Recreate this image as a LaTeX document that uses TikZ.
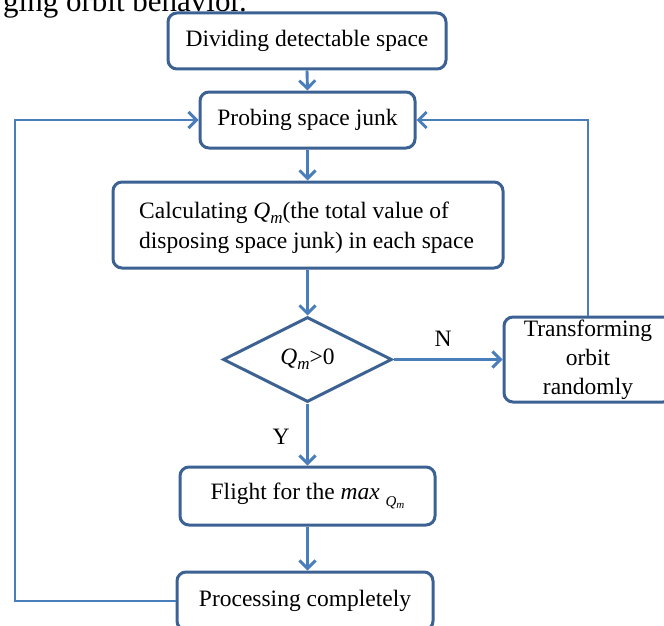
\documentclass[tikz,border=0pt]{standalone}
\usepackage{fontspec}
\setmainfont{Liberation Serif}
\usetikzlibrary{arrows.meta,shapes.geometric}
\definecolor{boxblue}{HTML}{3C6294}
\definecolor{linkblue}{HTML}{4A7EBB}
\newcommand{\Qm}{\textit{Q}\raisebox{-0.45ex}{\fontsize{17}{17}\selectfont\textit{m}}}
\newcommand{\Qmsmall}{\raisebox{-0.6ex}{\fontsize{15}{15}\selectfont\textit{Q}\raisebox{-0.3ex}{\fontsize{11}{11}\selectfont\textit{m}}}}
\tikzset{
  stepbox/.style={draw=boxblue, line width=3pt, rounded corners=9pt, fill=white,
    font=\fontsize{23.5}{30}\selectfont, align=center, inner sep=0pt},
  decision/.style={draw=boxblue, line width=3pt, diamond, fill=white, inner sep=0pt,
    font=\fontsize{23.5}{30}\selectfont},
  link/.style={draw=linkblue, line width=2.9pt, -{Straight Barb[length=8pt,width=16pt,line width=2.9pt]}},
  lbl/.style={font=\fontsize{23.5}{28}\selectfont, inner sep=0pt}
}
\begin{document}
\begin{tikzpicture}[x=1pt,y=-1pt]
\useasboundingbox (0,0) rectangle (664,626);
\clip (0,0) rectangle (664,626);
\fill[white] (0,0) rectangle (664,626);
% cut-off caption text at top
\node[anchor=base west, inner sep=0pt, font=\fontsize{31}{32}\selectfont] (cap) at (3,12) {ging orbit behavior.};
% nodes
\node[stepbox, minimum width=278pt, minimum height=56pt] (b1) at (307,41) {Dividing detectable space};
\node[stepbox, minimum width=215pt, minimum height=56pt] (b2) at (307.5,120) {Probing space junk};
\node[stepbox, minimum width=390pt, minimum height=86pt] (b3) at (308,225) {};
\node[anchor=west, align=left, inner sep=0pt, font=\fontsize{23.5}{30}\selectfont] (t3) at (139,228)
  {Calculating \Qm(the total value of\\disposing space junk) in each space};
\node[decision, minimum width=169pt, minimum height=85pt] (d) at (307.5,359.5) {\Qm>0};
\node[stepbox, minimum width=168pt, minimum height=85pt, font=\fontsize{23.5}{29}\selectfont] (b4) at (588,359.5)
  {Transforming\\orbit\\randomly};
\node[stepbox, minimum width=255pt, minimum height=58pt] (b5) at (307.5,496) {Flight for the \textit{max} \Qmsmall};
\node[stepbox, minimum width=256pt, minimum height=58pt] (b6) at (305,601) {Processing completely};
\node[lbl] (n) at (443,339) {N};
\node[lbl] (y) at (281,437) {Y};
\coordinate (L) at (15,0);
% connectors
\draw[link] (b1.south) -- (b2.north);
\draw[link] (b2.south) -- (b2.south |- b3.north);
\draw[link] (b2.south |- b3.south) -- (d.north);
\draw[link] (d.east) -- (b4.west);
\draw[link] (d.south) -- (b5.north);
\draw[link] (b5.south) -- (b5.south |- b6.north);
\draw[link] (b4.north) |- (b2.east);
\draw[link] (b6.west) -- (b6.west -| L) |- (b2.west);
\end{tikzpicture}
\end{document}
